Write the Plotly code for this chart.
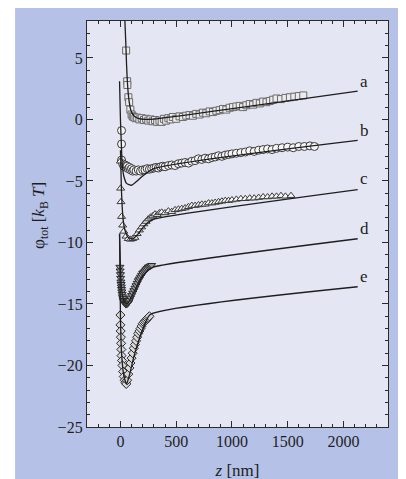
import plotly.graph_objects as go

# ---------------- data ----------------
# series a (squares)
a_z = [51, 60, 62, 71, 78, 89, 100, 110, 120, 135, 150, 170, 190, 210, 230, 250, 270, 290, 310, 330,
       350, 370, 390, 410, 430, 450, 470, 500, 530, 560, 590, 620, 650, 680, 710, 740, 770, 800, 830,
       860, 890, 920, 950, 980, 1010, 1040, 1070, 1100, 1130, 1160, 1190, 1220, 1250, 1280, 1310,
       1340, 1370, 1400, 1440, 1480, 1520, 1560, 1600, 1640]
a_phi = [5.6, 3.1, 2.8, 1.8, 1.4, 0.8, 0.4, 0.25, 0.2, 0.1, 0.15, 0.0, 0.1, -0.05, 0.05, -0.1, 0.0,
         -0.15, -0.05, -0.2, -0.1, -0.2, 0.05, -0.1, 0.1, 0.0, 0.2, 0.05, 0.25, 0.2, 0.3, 0.35, 0.3,
         0.45, 0.4, 0.55, 0.5, 0.65, 0.6, 0.7, 0.75, 0.85, 0.8, 0.95, 1.0, 1.05, 1.1, 1.0, 1.15, 1.25,
         1.2, 1.35, 1.3, 1.45, 1.4, 1.5, 1.6, 1.7, 1.65, 1.75, 1.8, 1.85, 1.9, 1.95]

# series b (circles)
b_z = [10, 10, 10, 20, 30, 40, 50, 60, 70, 80, 90, 100, 110, 120, 140, 160, 180, 200, 220, 240, 260,
       280, 300, 320, 340, 360, 380, 400, 430, 460, 490, 520, 550, 580, 610, 640, 670, 700, 730, 760,
       790, 820, 850, 880, 910, 940, 970, 1000, 1040, 1080, 1120, 1160, 1200, 1240, 1280, 1320, 1360,
       1400, 1450, 1500, 1550, 1600, 1650, 1700, 1740]
b_phi = [-0.9, -2.0, -3.3, -3.6, -3.8, -3.7, -3.9, -3.8, -4.0, -3.9, -4.1, -4.0, -4.2, -4.1, -4.2,
         -4.1, -4.2, -4.1, -4.1, -4.0, -4.05, -4.0, -3.95, -3.9, -3.95, -3.85, -3.8, -3.85, -3.75,
         -3.7, -3.75, -3.6, -3.55, -3.5, -3.55, -3.4, -3.35, -3.2, -3.25, -3.15, -3.2, -3.1, -3.05,
         -2.95, -3.0, -2.9, -2.85, -2.8, -2.75, -2.7, -2.65, -2.55, -2.6, -2.5, -2.45, -2.4, -2.45,
         -2.35, -2.3, -2.25, -2.3, -2.2, -2.2, -2.15, -2.2]

# series c (triangles up)
c_z = [0, 2, 5, 10, 20, 30, 50, 70, 90, 110, 130, 150, 170, 190, 210, 230, 250, 270, 290, 310, 330,
       350, 370, 400, 430, 460, 490, 520, 550, 580, 610, 640, 670, 700, 730, 760, 790, 820, 850, 880,
       910, 940, 970, 1000, 1040, 1080, 1120, 1160, 1200, 1240, 1280, 1320, 1360, 1400, 1440, 1480,
       1530]
c_phi = [-3.4, -5.6, -6.7, -7.9, -8.6, -9.1, -9.5, -9.7, -9.75, -9.7, -9.6, -9.3, -9.0, -8.75, -8.5,
         -8.3, -8.1, -7.95, -7.85, -7.7, -7.75, -7.6, -7.55, -7.6, -7.45, -7.5, -7.35, -7.3, -7.25,
         -7.2, -7.1, -7.0, -7.0, -6.95, -6.9, -6.9, -6.8, -6.8, -6.75, -6.7, -6.65, -6.6, -6.6, -6.55,
         -6.5, -6.45, -6.45, -6.4, -6.4, -6.35, -6.3, -6.3, -6.25, -6.25, -6.2, -6.25, -6.2]

# series d (triangles down)
d_z = [-5, -3, 0, 2, 4, 6, 8, 10, 12, 15, 18, 22, 26, 30, 35, 40, 45, 50, 55, 60, 65, 70, 75, 80, 90,
       100, 110, 120, 130, 140, 150, 160, 170, 180, 190, 200, 210, 220, 230, 240, 250, 260, 270, 280]
d_phi = [-12.0, -12.3, -12.6, -12.9, -13.2, -13.4, -13.6, -13.8, -14.0, -14.2, -14.4, -14.55, -14.7,
         -14.8, -14.9, -14.95, -15.0, -15.05, -15.0, -15.0, -14.95, -14.9, -14.8, -14.7, -14.5, -14.3,
         -14.1, -13.9, -13.7, -13.5, -13.3, -13.1, -12.95, -12.8, -12.65, -12.5, -12.4, -12.3, -12.2,
         -12.1, -12.0, -11.95, -11.9, -11.85]

# series e (diamonds)
e_z = [0, 0, 2, 4, 6, 8, 10, 14, 18, 24, 30, 38, 45, 52, 60, 70, 80, 90, 100, 110, 120, 130, 140, 150,
       160, 170, 180, 190, 200, 210, 220, 230, 240, 250, 260]
e_phi = [-15.9, -16.7, -17.2, -17.7, -18.2, -18.7, -19.2, -19.6, -20.0, -20.5, -20.9, -21.2, -21.4,
         -21.5, -21.2, -20.7, -20.2, -19.8, -19.4, -19.0, -18.6, -18.3, -18.0, -17.7, -17.4, -17.2,
         -17.0, -16.8, -16.6, -16.5, -16.4, -16.3, -16.2, -16.1, -16.0]

# fitted curves (nodes)
fa_z = [40, 48, 55, 62, 70, 80, 95, 120, 160, 220, 300, 2128]
fa_phi = [8.0, 6.2, 4.4, 3.1, 2.1, 1.35, 0.7, 0.3, 0.08, 0.0, 0.03, 2.3]
fb_z = [-8, 0, 8, 15, 30, 55, 100, 150, 200, 300, 2128]
fb_phi = [3.1, 0.0, -2.0, -3.5, -4.6, -5.2, -5.35, -5.0, -4.6, -4.0, -1.7]
fc_z = [0, 2, 8, 15, 25, 40, 70, 110, 150, 200, 250, 300, 2128]
fc_phi = [-2.5, -3.0, -5.5, -7.0, -8.2, -9.0, -9.6, -9.7, -9.4, -8.8, -8.35, -8.1, -5.7]
fd_z = [-8, 0, 10, 30, 60, 100, 150, 200, 250, 295, 2128]
fd_phi = [-9.3, -12.0, -13.8, -14.7, -15.0, -14.4, -13.5, -12.7, -12.25, -12.0, -9.7]
fe_z = [-8, 0, 10, 30, 55, 80, 120, 170, 220, 268, 2128]
fe_phi = [-9.3, -16.0, -19.0, -20.8, -21.5, -20.8, -19.3, -17.8, -16.6, -15.85, -13.6]

curve_labels = ["a", "b", "c", "d", "e"]
label_phi = [3.07, -0.91, -4.77, -8.83, -12.8]

x_tickvals = [0, 500, 1000, 1500, 2000]
y_tickvals = [5, 0, -5, -10, -15, -20, -25]

# ---------------- figure ----------------
fig = go.Figure()

series = [
    (a_z, a_phi, "square", 7, "#ececec", "#6a6a6a"),
    (b_z, b_phi, "circle", 8, "#f6f6f6", "#3a3a3a"),
    (c_z, c_phi, "triangle-up", 7, "#f4f4f4", "#3a3a3a"),
    (d_z, d_phi, "triangle-down", 7, "#9a9a9a", "#2a2a2a"),
    (e_z, e_phi, "diamond", 7, "#d8d8d8", "#2a2a2a"),
]
for z, p, sym, size, fill, edge in series:
    fig.add_trace(go.Scatter(
        x=z, y=p, mode="markers",
        marker=dict(symbol=sym, size=size, color=fill, line=dict(color=edge, width=1)),
        showlegend=False, hoverinfo="skip"))

for z, p in [(fa_z, fa_phi), (fb_z, fb_phi), (fc_z, fc_phi), (fd_z, fd_phi), (fe_z, fe_phi)]:
    fig.add_trace(go.Scatter(
        x=z, y=p, mode="lines", line=dict(color="#1e1e1e", width=1.3, shape="spline", smoothing=0.6),
        showlegend=False, hoverinfo="skip"))

for lab, yv in zip(curve_labels, label_phi):
    fig.add_annotation(x=2188, y=yv, text=lab, showarrow=False,
                       font=dict(family="Liberation Serif", size=17, color="#1e1e1e"),
                       xanchor="center", yanchor="middle")

# y-axis title (placed slightly above the plot's middle, as in the reference)
fig.add_annotation(xref="paper", yref="paper", x=-0.156, y=0.52, textangle=-90,
                   text="φ<sub>tot</sub> [<i>k</i><sub>B</sub> <i>T</i>]", showarrow=False,
                   font=dict(family="Liberation Serif", size=17, color="#1e1e1e"),
                   xanchor="center", yanchor="middle")

serif = dict(family="Liberation Serif", size=16, color="#1e1e1e")
axis_common = dict(showgrid=False, zeroline=False, showline=True, linecolor="#2a2a2a",
                   linewidth=1.3, mirror="allticks", ticks="inside", ticklen=6, tickwidth=1.2,
                   tickcolor="#2a2a2a", tickfont=serif, automargin=False)

fig.update_xaxes(range=[-300, 2400], tickvals=x_tickvals,
                 minor=dict(dtick=100, tick0=0, ticks="inside", ticklen=3, tickwidth=1, tickcolor="#2a2a2a"),
                 title=dict(text="<i>z</i> [nm]", font=dict(family="Liberation Serif", size=17, color="#1e1e1e"),
                            standoff=14),
                 **axis_common)
fig.update_yaxes(range=[-25, 8], tickvals=y_tickvals,
                 minor=dict(dtick=1, tick0=0, ticks="inside", ticklen=3, tickwidth=1, tickcolor="#2a2a2a"),
                 **axis_common)

# the page adds an 8 px body margin, so the margins below are offset by 8 px
fig.update_layout(
    width=406, height=479,
    margin=dict(l=79, r=26, t=13, b=60),
    paper_bgcolor="#b5c1e6",
    plot_bgcolor="#e4e7f3",
    shapes=[
        dict(type="rect", xref="paper", yref="paper", x0=-0.3, x1=-0.239, y0=-0.3, y1=1.2,
             fillcolor="#ffffff", line=dict(width=0), layer="below"),
    ],
)

fig.write_html("out.html")
